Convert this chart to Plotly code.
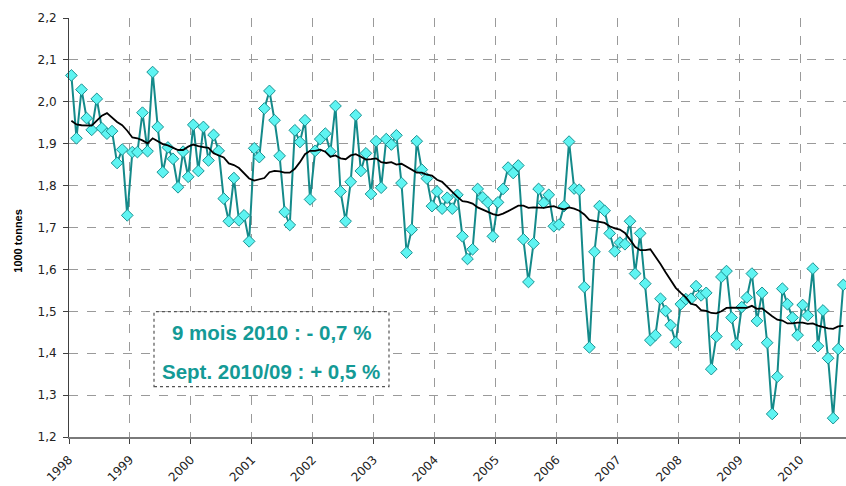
import plotly.graph_objects as go

years = [1998, 1999, 2000, 2001, 2002, 2003, 2004, 2005, 2006, 2007, 2008, 2009, 2010]
year_labels = [str(y) for y in years]

v1998 = [2.063, 1.913, 2.029, 1.961, 1.933, 2.007, 1.937, 1.924, 1.930, 1.854, 1.886, 1.729]
v1999 = [1.880, 1.880, 1.974, 1.882, 2.071, 1.940, 1.832, 1.891, 1.864, 1.796, 1.881, 1.821]
v2000 = [1.945, 1.835, 1.940, 1.860, 1.921, 1.883, 1.769, 1.715, 1.818, 1.717, 1.729, 1.667]
v2001 = [1.889, 1.868, 1.984, 2.026, 1.956, 1.871, 1.737, 1.706, 1.932, 1.904, 1.956, 1.767]
v2002 = [1.883, 1.911, 1.924, 1.881, 1.990, 1.786, 1.715, 1.809, 1.968, 1.835, 1.877, 1.780]
v2003 = [1.906, 1.795, 1.911, 1.898, 1.920, 1.806, 1.640, 1.695, 1.906, 1.838, 1.817, 1.751]
v2004 = [1.786, 1.745, 1.771, 1.745, 1.778, 1.679, 1.625, 1.648, 1.792, 1.772, 1.760, 1.679]
v2005 = [1.760, 1.792, 1.843, 1.830, 1.848, 1.672, 1.570, 1.662, 1.792, 1.759, 1.778, 1.703]
v2006 = [1.707, 1.751, 1.905, 1.793, 1.790, 1.558, 1.414, 1.642, 1.751, 1.740, 1.686, 1.643]
v2007 = [1.664, 1.660, 1.715, 1.590, 1.686, 1.566, 1.431, 1.443, 1.530, 1.501, 1.467, 1.426]
v2008 = [1.517, 1.529, 1.530, 1.560, 1.538, 1.544, 1.362, 1.440, 1.582, 1.596, 1.485, 1.421]
v2009 = [1.510, 1.533, 1.590, 1.477, 1.544, 1.425, 1.255, 1.344, 1.554, 1.517, 1.485, 1.443]
v2010 = [1.515, 1.490, 1.602, 1.417, 1.502, 1.388, 1.245, 1.410, 1.563]

# 12-month moving average (black line), read per month
ma1998 = [1.955, 1.946, 1.944, 1.943, 1.943, 1.955, 1.967, 1.973, 1.962, 1.952, 1.944, 1.931]
ma1999 = [1.915, 1.913, 1.908, 1.901, 1.913, 1.907, 1.899, 1.896, 1.890, 1.885, 1.885, 1.893]
ma2000 = [1.898, 1.894, 1.892, 1.890, 1.877, 1.872, 1.867, 1.853, 1.849, 1.842, 1.829, 1.817]
ma2001 = [1.812, 1.815, 1.818, 1.832, 1.835, 1.834, 1.831, 1.831, 1.840, 1.856, 1.875, 1.883]
ma2002 = [1.883, 1.886, 1.881, 1.869, 1.872, 1.865, 1.863, 1.872, 1.875, 1.869, 1.862, 1.863]
ma2003 = [1.865, 1.856, 1.854, 1.856, 1.850, 1.852, 1.845, 1.836, 1.831, 1.831, 1.826, 1.824]
ma2004 = [1.814, 1.809, 1.798, 1.785, 1.773, 1.763, 1.761, 1.757, 1.748, 1.742, 1.738, 1.732]
ma2005 = [1.729, 1.733, 1.739, 1.746, 1.752, 1.752, 1.747, 1.748, 1.748, 1.747, 1.749, 1.751]
ma2006 = [1.746, 1.743, 1.748, 1.745, 1.740, 1.731, 1.718, 1.716, 1.713, 1.711, 1.703, 1.698]
ma2007 = [1.695, 1.687, 1.671, 1.654, 1.646, 1.646, 1.648, 1.631, 1.613, 1.593, 1.575, 1.556]
ma2008 = [1.544, 1.533, 1.518, 1.515, 1.503, 1.501, 1.496, 1.495, 1.500, 1.508, 1.509, 1.509]
ma2009 = [1.508, 1.508, 1.513, 1.506, 1.507, 1.497, 1.488, 1.480, 1.478, 1.471, 1.471, 1.473]
ma2010 = [1.473, 1.470, 1.471, 1.466, 1.462, 1.459, 1.458, 1.464, 1.465]

ytick_vals = [1.2, 1.3, 1.4, 1.5, 1.6, 1.7, 1.8, 1.9, 2.0, 2.1, 2.2]
ytick_text = ["1,2", "1,3", "1,4", "1,5", "1,6", "1,7", "1,8", "1,9", "2,0", "2,1", "2,2"]

y_title = "1000 tonnes"
box_line1 = "9 mois 2010 : - 0,7 %"
box_line2 = "Sept. 2010/09 : + 0,5 %"

values = (v1998 + v1999 + v2000 + v2001 + v2002 + v2003 + v2004 + v2005 +
          v2006 + v2007 + v2008 + v2009 + v2010)
ma = (ma1998 + ma1999 + ma2000 + ma2001 + ma2002 + ma2003 + ma2004 + ma2005 +
      ma2006 + ma2007 + ma2008 + ma2009 + ma2010)

# x position in months since Jan 1998 (points centred in their month)
xm = [i + 0.47 for i in range(len(values))]
xtick_vals = [(y - years[0]) * 12 for y in years]

W, H = 846, 486
ML, MR, MT, MB = 69, 0, 18, 48.5

fig = go.Figure()
fig.add_trace(go.Scatter(
    x=xm, y=values, mode="lines+markers",
    line=dict(color="#148a8a", width=2),
    marker=dict(symbol="diamond", size=9, color="#5ef4f2",
                line=dict(color="#1a9292", width=1)),
    showlegend=False, hoverinfo="skip", cliponaxis=False))
fig.add_trace(go.Scatter(
    x=xm, y=ma, mode="lines",
    line=dict(color="#000000", width=1.8),
    showlegend=False, hoverinfo="skip"))

tick_font = dict(family="DejaVu Sans, sans-serif", size=12, color="#222222")

fig.update_xaxes(
    range=[0, 153.0], tickmode="array", tickvals=xtick_vals, ticktext=year_labels,
    tickangle=-45, tickfont=tick_font, automargin=False,
    showgrid=True, gridcolor="#9a9a9a", griddash="dash", gridwidth=1,
    showline=True, linecolor="#7a7a7a", linewidth=2,
    ticks="outside", ticklen=5, tickcolor="#404040", zeroline=False,
    ticklabelstandoff=4)
fig.update_yaxes(
    range=[1.2, 2.2], tickmode="array", tickvals=ytick_vals, ticktext=ytick_text,
    tickfont=tick_font, automargin=False,
    showgrid=True, gridcolor="#9a9a9a", griddash="dash", gridwidth=1,
    showline=True, linecolor="#404040", linewidth=1,
    ticks="outside", ticklen=5, tickcolor="#404040", zeroline=False,
    ticklabelstandoff=4)

pw = W - ML - MR
ph = H - MT - MB
def px_x(p):
    return (p - ML) / pw
def px_y(p):
    return (H - MB - p) / ph

fig.add_annotation(xref="paper", yref="paper", x=px_x(18), y=px_y(241),
                   text="<b>" + y_title + "</b>", textangle=-90, showarrow=False,
                   font=dict(family="Liberation Sans, Arial, sans-serif", size=11, color="#000000"),
                   xanchor="center", yanchor="middle")

fig.add_shape(type="rect", xref="paper", yref="paper",
              x0=px_x(154), x1=px_x(389), y0=px_y(387), y1=px_y(312),
              line=dict(color="#555555", width=1.2, dash="dot"),
              fillcolor="#ffffff", layer="above")
text_font = dict(family="Liberation Sans, Arial, sans-serif", size=20.5, color="#149a96")
fig.add_annotation(xref="paper", yref="paper", x=px_x(271), y=px_y(333),
                   text="<b>" + box_line1 + "</b>", showarrow=False, font=text_font,
                   xanchor="center", yanchor="middle")
fig.add_annotation(xref="paper", yref="paper", x=px_x(271), y=px_y(372),
                   text="<b>" + box_line2 + "</b>", showarrow=False, font=text_font,
                   xanchor="center", yanchor="middle")

fig.update_layout(
    width=W, height=H,
    margin=dict(l=ML, r=MR, t=MT, b=MB, pad=0, autoexpand=False),
    plot_bgcolor="#ffffff", paper_bgcolor="#ffffff",
    font=dict(family="Liberation Sans, Arial, sans-serif"),
)

fig.write_html("out.html",
               config={"displayModeBar": False, "staticPlot": True},
               post_script="document.body.style.margin='0px';document.body.style.overflow='hidden';")
